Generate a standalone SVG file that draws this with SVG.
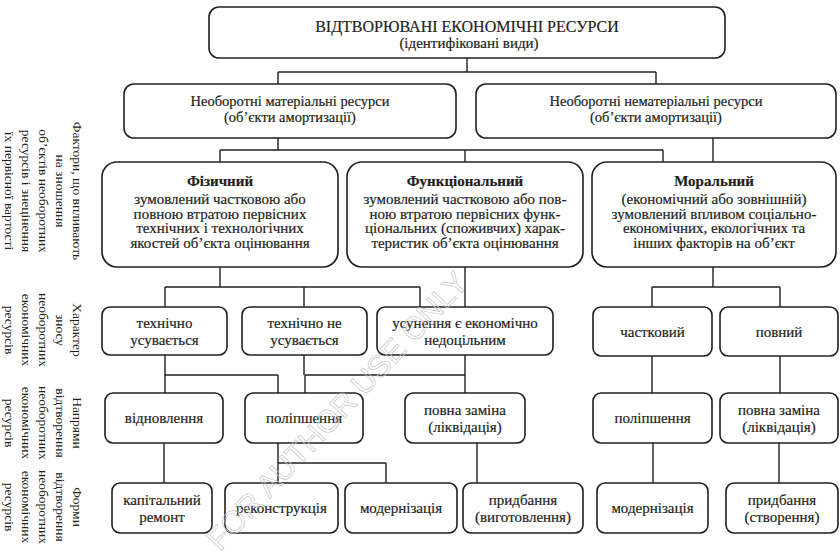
<svg xmlns="http://www.w3.org/2000/svg" width="840" height="557" viewBox="0 0 840 557">
<style>
.b{fill:#fff;stroke:#231f20;stroke-width:1.6}
.t{font-family:"Liberation Serif","Times New Roman",serif;fill:#231f20;text-anchor:middle;stroke:#231f20;stroke-width:0.2}
.s15{font-size:15px}
.s14{font-size:14.5px}
.bd{font-weight:bold}
.lbl{font-family:"Liberation Serif","Times New Roman",serif;fill:#231f20;text-anchor:middle;font-size:13.5px}
.c{fill:none;stroke:#231f20;stroke-width:1.4}
.wm{font-family:"Liberation Sans",Arial,sans-serif;font-size:31px;fill:none;stroke:#c8c8c8;stroke-width:0.7;text-anchor:middle}
</style>
<rect width="840" height="557" fill="#fff"/>
<g id="connectors">
<path class="c" d="M467,58V72M278,72H656M278,72V84M656,72V84"/>
<path class="c" d="M278,138V150M220,150H663M220,150V162M465,150V162M663,150V162M713,138V162"/>
<path class="c" d="M220,267V287M165,287H420M165,287V307M304,287V307M420,287V307M465,267V307"/>
<path class="c" d="M713,267V287M652,287H780M652,287V307M780,287V307"/>
<path class="c" d="M165,355V393M165,375H278M278,375V393M304,355V375M305,375H465M305,375V393M465,355V393"/>
<path class="c" d="M652,356V393M780,356V393"/>
<path class="c" d="M164,443V483M278,443V483M278,463H386M386,463V483M477,443V483M653,443V483M779,443V483"/>
</g>
<g id="labels">
<text class="lbl" transform="translate(44,191) rotate(90)"><tspan x="0" y="-29">Фактори, що впливають</tspan><tspan x="0" y="-12">на зношення</tspan><tspan x="0" y="5">об’єктів необоротних</tspan><tspan x="0" y="22">ресурсів і знецінення</tspan><tspan x="0" y="39">їх первісної вартості</tspan></text>
<text class="lbl" transform="translate(44,330) rotate(90)"><tspan x="0" y="-29">Характер</tspan><tspan x="0" y="-12">зносу</tspan><tspan x="0" y="5">необоротних</tspan><tspan x="0" y="22">економічних</tspan><tspan x="0" y="39">ресурсів</tspan></text>
<text class="lbl" transform="translate(44,423) rotate(90)"><tspan x="0" y="-29">Напрями</tspan><tspan x="0" y="-12">відтворення</tspan><tspan x="0" y="5">необоротних</tspan><tspan x="0" y="22">економічних</tspan><tspan x="0" y="39">ресурсів</tspan></text>
<text class="lbl" transform="translate(44,507) rotate(90)"><tspan x="0" y="-29">Форми</tspan><tspan x="0" y="-12">відтворення</tspan><tspan x="0" y="5">необоротних</tspan><tspan x="0" y="22">економічних</tspan><tspan x="0" y="39">ресурсів</tspan></text>
</g>
<g id="root"><rect class="b" x="209" y="7" width="516" height="51" rx="10"/>
<text class="t" style="font-size:16px" x="467" y="32">ВІДТВОРЮВАНІ ЕКОНОМІЧНІ РЕСУРСИ</text>
<text class="t s15" x="469" y="48">(ідентифіковані види)</text></g>
<g id="material"><rect class="b" x="124" y="84" width="332" height="54" rx="10"/>
<text class="t s14" x="290" y="106">Необоротні матеріальні ресурси</text>
<text class="t s14" x="290" y="122">(об’єкти амортизації)</text></g>
<g id="nonmaterial"><rect class="b" x="476" y="84" width="360" height="54" rx="10"/>
<text class="t s14" x="656" y="106">Необоротні нематеріальні ресурси</text>
<text class="t s14" x="656" y="122">(об’єкти амортизації)</text></g>
<g id="physical"><rect class="b" x="102" y="162" width="236" height="105" rx="15"/>
<text class="t s15 bd" x="220" y="186">Фізичний</text>
<text class="t s15" x="220" y="204">зумовлений частковою або</text>
<text class="t s15" x="220" y="218.5">повною втратою первісних</text>
<text class="t s15" x="220" y="233">технічних і технологічних</text>
<text class="t s15" x="220" y="247.5">якостей об’єкта оцінювання</text></g>
<g id="functional"><rect class="b" x="347" y="162" width="236" height="105" rx="15"/>
<text class="t s15 bd" x="465" y="186">Функціональний</text>
<text class="t s15" x="465" y="204">зумовлений частковою або пов-</text>
<text class="t s15" x="465" y="218.5">ною втратою первісних функ-</text>
<text class="t s15" x="465" y="233">ціональних (споживчих) харак-</text>
<text class="t s15" x="465" y="247.5">теристик об’єкта оцінювання</text></g>
<g id="moral"><rect class="b" x="592" y="162" width="244" height="105" rx="15"/>
<text class="t s15 bd" x="714" y="186">Моральний</text>
<text class="t s15" x="714" y="204">(економічний або зовнішній)</text>
<text class="t s15" x="714" y="218.5">зумовлений впливом соціально-</text>
<text class="t s15" x="714" y="233">економічних, екологічних та</text>
<text class="t s15" x="714" y="247.5">інших факторів на об’єкт</text></g>
<g id="tech-rem"><rect class="b" x="102" y="307" width="125" height="48" rx="8"/>
<text class="t s15" x="164.5" y="328">технічно</text><text class="t s15" x="164.5" y="345">усувається</text></g>
<g id="tech-nonrem"><rect class="b" x="242" y="307" width="125" height="48" rx="8"/>
<text class="t s15" x="304.5" y="328">технічно не</text><text class="t s15" x="304.5" y="345">усувається</text></g>
<g id="uneconomic"><rect class="b" x="377" y="307" width="176" height="48" rx="8"/>
<text class="t s15" x="465" y="328">усунення є економічно</text><text class="t s15" x="465" y="345">недоцільним</text></g>
<g id="partial"><rect class="b" x="593" y="307" width="119" height="49" rx="8"/>
<text class="t s15" x="652.5" y="337">частковий</text></g>
<g id="full"><rect class="b" x="720" y="307" width="118" height="49" rx="8"/>
<text class="t s15" x="779" y="337">повний</text></g>
<g id="restore"><rect class="b" x="105" y="393" width="118" height="50" rx="8"/>
<text class="t s15" x="164" y="423">відновлення</text></g>
<g id="improve1"><rect class="b" x="245" y="393" width="118" height="50" rx="8"/>
<text class="t s15" x="304" y="423">поліпшення</text></g>
<g id="replace1"><rect class="b" x="405" y="393" width="120" height="50" rx="8"/>
<text class="t s15" x="465" y="415">повна заміна</text><text class="t s15" x="465" y="432">(ліквідація)</text></g>
<g id="improve2"><rect class="b" x="593" y="393" width="119" height="50" rx="8"/>
<text class="t s15" x="652.5" y="423">поліпшення</text></g>
<g id="replace2"><rect class="b" x="720" y="393" width="118" height="50" rx="8"/>
<text class="t s15" x="779" y="415">повна заміна</text><text class="t s15" x="779" y="432">(ліквідація)</text></g>
<g id="capital"><rect class="b" x="112" y="483" width="100" height="50" rx="8"/>
<text class="t s15" x="162" y="505">капітальний</text><text class="t s15" x="162" y="522">ремонт</text></g>
<g id="reconstruct"><rect class="b" x="225" y="483" width="113" height="50" rx="8"/>
<text class="t s15" x="281.5" y="513">реконструкція</text></g>
<g id="modern1"><rect class="b" x="345" y="483" width="112" height="50" rx="8"/>
<text class="t s15" x="401" y="513">модернізація</text></g>
<g id="acquire1"><rect class="b" x="463" y="483" width="120" height="50" rx="8"/>
<text class="t s15" x="523" y="505">придбання</text><text class="t s15" x="523" y="522">(виготовлення)</text></g>
<g id="modern2"><rect class="b" x="597" y="483" width="111" height="50" rx="8"/>
<text class="t s15" x="652.5" y="513">модернізація</text></g>
<g id="acquire2"><rect class="b" x="726" y="483" width="112" height="50" rx="8"/>
<text class="t s15" x="782" y="505">придбання</text><text class="t s15" x="782" y="522">(створення)</text></g>
<text class="wm" transform="translate(345,418) rotate(-47)">FOR AUTHOR USE ONLY</text>
</svg>
